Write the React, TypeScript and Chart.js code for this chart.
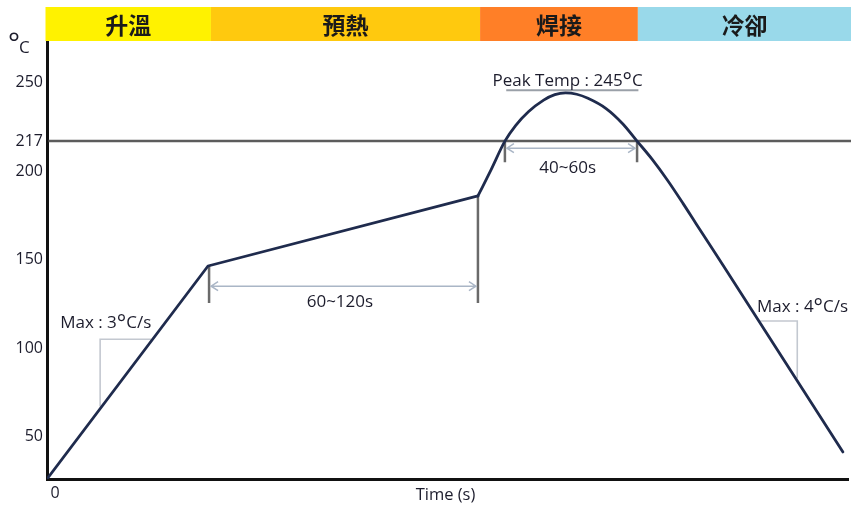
import React, { useEffect, useRef } from "react";
import { Chart, registerables } from "chart.js";

Chart.register(...registerables);

// ---- data ----
const profileTime = [0, 60.3, 161.4, 166.3, 171.5, 175.5, 180.3, 186, 190.2, 194.2, 198.4, 202.6, 209.4, 215.7, 221, 226.6, 232.2, 238.2, 243.4, 253.2, 298.1];
const profileTemp = [26, 146.4, 186, 200.8, 217, 225.8, 233.6, 240.2, 243.3, 244.3, 243.5, 241.2, 235.4, 226.7, 217, 206.8, 195.3, 181.8, 169.6, 146.8, 41.3];

const zoneLabels = ["升溫", "預熱", "焊接", "冷卻"];
const zoneStart = [0, 61.4, 162.2, 221.3];
const zoneColors = ["#FFF200", "#FFC90E", "#FF7F27", "#99D9EA"];

const yTickValues = [50, 100, 150, 200, 217, 250];
const xTickValues = [0];

const liquidusTemp = 217;
const peakLabel = "245";
const peakLineTime = [172, 221.5];
const peakLineTemp = 245.8;
const peakTextTime = 195;
const peakTextTemp = 248;

const talRange = [171.5, 221];
const talTickBottom = 205;
const talArrowTemp = 213;
const talText = "40~60s";
const talTextPos = [195, 199.2];

const soakRange = [60.7, 161.4];
const soakTickTop = [146.4, 186];
const soakTickBottom = 125.5;
const soakArrowTemp = 135;
const soakText = "60~120s";
const soakTextPos = [109.7, 123.5];

const rampTri = { t1: 19.9, t2: 39, top: 105, bottom: 67 };
const rampText = ["Max : 3", "C/s"];
const rampTextPos = [22, 111.3];

const coolTri = { t1: 266.5, t2: 281, top: 115.3, bottom: 83 };
const coolText = ["Max : 4", "C/s"];
const coolTextPos = [265.9, 120.6];

const FONT = "'Open Sans', 'Noto Sans', sans-serif";
const CJK = "'Noto Sans CJK TC', 'Noto Sans CJK SC', sans-serif";

type Part = { text: string; font: string; dy: number };

function drawRich(ctx: CanvasRenderingContext2D, parts: Part[], x: number, y: number, align: "left" | "center") {
  const widths = parts.map((p) => {
    ctx.font = p.font;
    return ctx.measureText(p.text).width;
  });
  const total = widths.reduce((a, b) => a + b, 0);
  let cx = align === "center" ? x - total / 2 : x;
  ctx.textAlign = "left";
  ctx.textBaseline = "alphabetic";
  parts.forEach((p, i) => {
    ctx.font = p.font;
    ctx.fillText(p.text, cx, y + p.dy);
    cx += widths[i];
  });
}

function arrow(ctx: CanvasRenderingContext2D, x1: number, x2: number, y: number) {
  ctx.beginPath();
  ctx.moveTo(x1 + 1, y);
  ctx.lineTo(x2 - 1, y);
  ctx.moveTo(x1 + 8, y - 4.5);
  ctx.lineTo(x1 + 1, y);
  ctx.lineTo(x1 + 8, y + 4.5);
  ctx.moveTo(x2 - 8, y - 4.5);
  ctx.lineTo(x2 - 1, y);
  ctx.lineTo(x2 - 8, y + 4.5);
  ctx.stroke();
}

const overlayPlugin = {
  id: "overlay",
  beforeDatasetsDraw(chart: any) {
    const ctx: CanvasRenderingContext2D = chart.ctx;
    const xs = chart.scales.x;
    const ys = chart.scales.y;
    const area = chart.chartArea;
    const W = chart.width;
    const X = (t: number) => xs.getPixelForValue(t);
    const Y = (v: number) => ys.getPixelForValue(v);
    ctx.save();

    // zone band
    const bandTop = 7;
    const bandBottom = area.top;
    zoneLabels.forEach((lab, i) => {
      const x1 = X(zoneStart[i]) - (i === 0 ? 1.5 : 0);
      const x2 = i + 1 < zoneStart.length ? X(zoneStart[i + 1]) : W;
      ctx.fillStyle = zoneColors[i];
      ctx.fillRect(x1, bandTop, x2 - x1, bandBottom - bandTop);
      ctx.fillStyle = "#1a1a1a";
      ctx.font = `600 23px ${CJK}`;
      ctx.textAlign = "center";
      ctx.textBaseline = "middle";
      ctx.fillText(lab, (x1 + x2) / 2, (bandTop + bandBottom) / 2 + 1.5);
    });

    // liquidus line
    ctx.strokeStyle = "#5c5c5c";
    ctx.lineWidth = 2.5;
    ctx.beginPath();
    ctx.moveTo(area.left + 1.5, Y(liquidusTemp));
    ctx.lineTo(W, Y(liquidusTemp));
    ctx.stroke();

    // peak underline
    ctx.strokeStyle = "#9aa0a8";
    ctx.lineWidth = 2;
    ctx.beginPath();
    ctx.moveTo(X(peakLineTime[0]), Y(peakLineTemp));
    ctx.lineTo(X(peakLineTime[1]), Y(peakLineTemp));
    ctx.stroke();

    // slope triangles
    ctx.strokeStyle = "#c3c8d0";
    ctx.lineWidth = 1.6;
    ctx.beginPath();
    ctx.moveTo(X(rampTri.t1), Y(rampTri.bottom));
    ctx.lineTo(X(rampTri.t1), Y(rampTri.top));
    ctx.lineTo(X(rampTri.t2), Y(rampTri.top));
    ctx.stroke();
    ctx.beginPath();
    ctx.moveTo(X(coolTri.t1), Y(coolTri.top));
    ctx.lineTo(X(coolTri.t2), Y(coolTri.top));
    ctx.lineTo(X(coolTri.t2), Y(coolTri.bottom));
    ctx.stroke();

    // dimension ticks
    ctx.strokeStyle = "#6a6a6a";
    ctx.lineWidth = 2.5;
    ctx.beginPath();
    ctx.moveTo(X(soakRange[0]), Y(soakTickTop[0]));
    ctx.lineTo(X(soakRange[0]), Y(soakTickBottom));
    ctx.moveTo(X(soakRange[1]), Y(soakTickTop[1]));
    ctx.lineTo(X(soakRange[1]), Y(soakTickBottom));
    ctx.moveTo(X(talRange[0]), Y(liquidusTemp));
    ctx.lineTo(X(talRange[0]), Y(talTickBottom));
    ctx.moveTo(X(talRange[1]), Y(liquidusTemp));
    ctx.lineTo(X(talRange[1]), Y(talTickBottom));
    ctx.stroke();

    // dimension arrows
    ctx.strokeStyle = "#aab6c6";
    ctx.lineWidth = 1.5;
    arrow(ctx, X(soakRange[0]) + 1, X(soakRange[1]) - 1, Y(soakArrowTemp));
    arrow(ctx, X(talRange[0]) + 1, X(talRange[1]) - 1, Y(talArrowTemp));
    ctx.restore();
  },
  afterDatasetsDraw(chart: any) {
    const ctx: CanvasRenderingContext2D = chart.ctx;
    const xs = chart.scales.x;
    const ys = chart.scales.y;
    const area = chart.chartArea;
    const X = (t: number) => xs.getPixelForValue(t);
    const Y = (v: number) => ys.getPixelForValue(v);
    ctx.save();
    ctx.fillStyle = "#1c1c2c";
    const f = `17px ${FONT}`;
    const deg = `22px ${FONT}`;

    drawRich(ctx, [
      { text: "Peak Temp : " + peakLabel, font: f, dy: 0 },
      { text: "°", font: deg, dy: 2 },
      { text: "C", font: f, dy: 0 },
    ], X(peakTextTime), Y(peakTextTemp), "center");

    drawRich(ctx, [{ text: talText, font: f, dy: 0 }], X(talTextPos[0]), Y(talTextPos[1]), "center");
    drawRich(ctx, [{ text: soakText, font: f, dy: 0 }], X(soakTextPos[0]), Y(soakTextPos[1]), "center");

    drawRich(ctx, [
      { text: rampText[0], font: f, dy: 0 },
      { text: "°", font: deg, dy: 2 },
      { text: rampText[1], font: f, dy: 0 },
    ], X(rampTextPos[0]), Y(rampTextPos[1]), "center");

    drawRich(ctx, [
      { text: coolText[0], font: f, dy: 0 },
      { text: "°", font: deg, dy: 2 },
      { text: coolText[1], font: f, dy: 0 },
    ], X(coolTextPos[0]), Y(coolTextPos[1]), "left");

    // unit label
    drawRich(ctx, [{ text: "°", font: `28px ${FONT}`, dy: 0 }], area.left - 39, area.top + 12, "left");
    drawRich(ctx, [{ text: "C", font: `17px ${FONT}`, dy: 0 }], area.left - 28, area.top + 12, "left");

    // axis title
    drawRich(ctx, [{ text: "Time (s)", font: `16.5px ${FONT}`, dy: 0 }], (area.left + area.right) / 2 - 2, area.bottom + 21, "center");
    ctx.restore();
  },
};

export default function App() {
  const ref = useRef<HTMLCanvasElement | null>(null);
  useEffect(() => {
    document.body.style.margin = "0";
    const pts = profileTime.map((t, i) => ({ x: t, y: profileTemp[i] }));
    const common = {
      borderColor: "#1f2b4d",
      borderWidth: 2.8,
      pointRadius: 0,
      borderJoinStyle: "round" as const,
      borderCapStyle: "round" as const,
      fill: false,
    };
    const chart = new Chart(ref.current as HTMLCanvasElement, {
      type: "line",
      data: {
        datasets: [
          { ...common, label: "ramp-soak", data: pts.slice(0, 3), tension: 0 },
          { ...common, label: "reflow-cool", data: pts.slice(2), cubicInterpolationMode: "monotone" },
        ],
      },
      options: {
        animation: false,
        responsive: true,
        maintainAspectRatio: false,
        layout: { padding: { top: 41, right: 3, left: 0, bottom: 0 } },
        plugins: { legend: { display: false }, tooltip: { enabled: false } },
        scales: {
          x: {
            type: "linear",
            min: 0,
            max: 300,
            grid: { display: false, drawTicks: false },
            border: { display: true, color: "#111", width: 3 },
            ticks: {
              autoSkip: false,
              padding: 5,
              labelOffset: 8,
              color: "#1c1c2c",
              font: { family: FONT, size: 16 },
              callback: (v: any) => String(v),
            },
            afterBuildTicks: (s: any) => {
              s.ticks = xTickValues.map((v) => ({ value: v }));
            },
            afterFit: (s: any) => {
              s.height = 26;
            },
          },
          y: {
            type: "linear",
            min: 26,
            max: 273.6,
            grid: { display: false, drawTicks: false },
            border: { display: true, color: "#111", width: 3 },
            ticks: {
              autoSkip: false,
              padding: 4,
              color: "#1c1c2c",
              font: { family: FONT, size: 16 },
              callback: (v: any) => String(v),
            },
            afterBuildTicks: (s: any) => {
              s.ticks = yTickValues.map((v) => ({ value: v }));
            },
            afterFit: (s: any) => {
              s.width = 47;
            },
          },
        },
      },
      plugins: [overlayPlugin],
    });
    return () => chart.destroy();
  }, []);
  return (
    <div style={{ width: 851, height: 505, position: "relative", background: "#fff" }}>
      <canvas ref={ref} />
    </div>
  );
}
